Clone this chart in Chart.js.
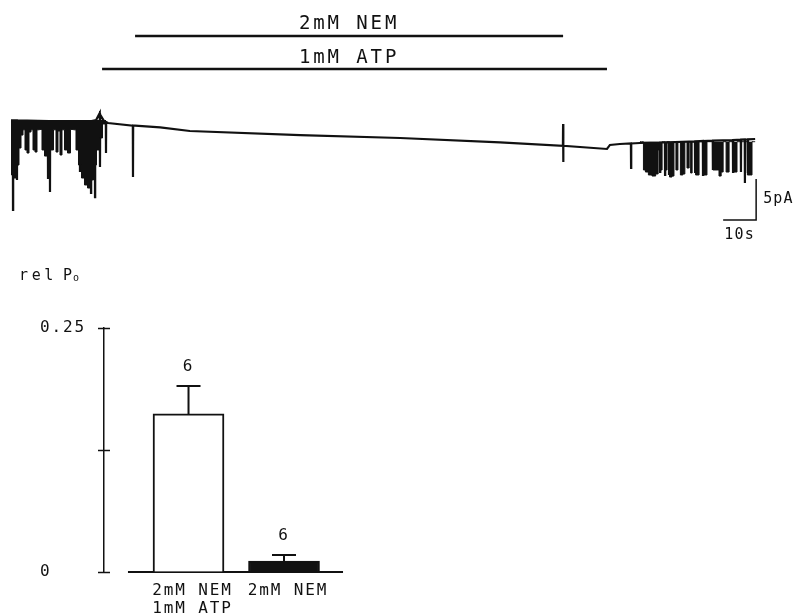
<!DOCTYPE html>
<html>
<head>
<meta charset="utf-8">
<script src="https://cdn.jsdelivr.net/npm/chart.js@4.4.0/dist/chart.umd.min.js"></script>
<style>
  html, body { margin: 0; padding: 0; background: #fff; width: 793px; height: 615px; overflow: hidden; }
  canvas { position: absolute; left: 0; }
  #trace { top: 0; }
  #bars { top: 250px; }
</style>
</head>
<body>
<canvas id="trace" width="793" height="250"></canvas>
<canvas id="bars" width="793" height="365"></canvas>
<script>
// ---- current trace (time in s, current in pA) ----
const traceT = [
  0.3, 0.86, 0.91, 0.96, 2.07, 2.12, 2.17,
  11.47, 11.52, 11.57, 12.07, 12.12, 12.17,
  21.16, 21.21, 21.26, 24.5, 24.55, 24.6, 25.71, 25.76, 25.81,
  26.1, 27.2, 27.27, 27.34, 28.5, 29.04, 29.09, 29.14, 29.7,
  37.22, 37.27, 37.32, 37.9, 45.5, 54.5, 87.9, 118.2, 148.5,
  167.55, 167.6, 167.65, 167.7, 180.9, 181.8, 184.8,
  188.15, 188.2, 188.25, 190.9, 196.95, 197.0, 197.05,
  198.45, 198.5, 198.55, 199.65, 199.7, 199.75,
  207.55, 207.6, 207.65, 209.1, 209.95, 210.0, 210.05,
  212.95, 213.0, 213.05, 219.05, 219.1, 219.15,
  221.45, 221.5, 221.55, 222.65, 222.7, 222.75, 223.55, 223.6, 223.65, 225.8
];
const traceI = [
  0.2, 0.2, -10.73, 0.2, 0.2, -7.07, 0.2,
  0.1, -6.83, 0.1, 0.1, -8.54, 0.1,
  0.1, -6.10, 0.1, 0.1, -8.66, 0.1, 0.2, -9.15, 0.2,
  0.24, 1.1, -5.49, 0.9, 0.12, 0.0, -3.78, 0.0, -0.12,
  -0.45, -6.71, -0.45, -0.45, -0.65, -1.1, -1.6, -1.95, -2.49,
  -2.9, -0.24, -4.88, -2.9, -3.29, -2.8, -2.68,
  -2.62, -5.61, -2.62, -2.56, -2.5, -6.10, -2.5,
  -2.48, -6.46, -2.48, -2.47, -6.34, -2.47,
  -2.36, -6.10, -2.36, -2.32, -2.31, -6.46, -2.31,
  -2.27, -5.85, -2.27, -2.2, -6.10, -2.2,
  -2.15, -6.10, -2.15, -2.13, -7.44, -2.13, -2.12, -6.22, -2.12, -2.07
];

// dense bursts of openings (lower envelope, filled up to the closed level)
const leftBandT = [0.30, 0.61, 1.52, 2.42, 3.03, 3.64, 4.24, 4.85, 5.45, 6.06, 6.67, 7.27, 7.88,
  8.48, 9.39, 10.0, 10.91, 11.82, 12.73, 13.64, 14.24, 14.85, 15.45, 16.06, 16.97, 17.88, 18.79,
  19.70, 20.30, 21.21, 22.12, 23.03, 23.94, 24.85, 25.76, 26.67, 27.58, 28.48, 29.09];
const leftBandI = [0, -6.46, -6.83, -5.24, -3.17, -1.59, -0.95, -3.41, -3.78, -1.22, -0.95, -3.41, -3.66,
  -0.95, -0.9, -3.41, -4.15, -4.39, -3.41, -0.95, -3.66, -1.1, -4.02, -0.95, -3.41, -3.78, -0.9,
  -0.95, -3.41, -5.24, -6.83, -7.68, -8.05, -7.07, -5.24, -3.41, -1.95, -0.24, 0];
const leftClosed = 0.25;

const rightBandT = [190.9, 191.8, 192.1, 193.0, 193.9, 195.2, 196.1, 196.7, 197.3, 197.9,
  198.8, 199.4, 200.3, 200.9, 201.5, 202.1, 202.7, 203.6, 204.2, 204.8,
  205.5, 206.1, 206.4, 207.0, 208.5, 209.1, 210.9, 211.5, 214.5, 215.2,
  215.8, 216.4, 217.6, 218.2, 220.0, 220.6, 222.4, 224.5, 225.2, 225.8];
const rightBandI = [-2.4, -2.4, -5.85, -6.10, -6.46, -6.59, -6.34, -3.41, -5.85, -2.4,
  -5.85, -2.4, -6.71, -6.59, -2.4, -5.85, -2.4, -6.46, -6.34, -2.4,
  -5.61, -2.4, -6.22, -2.4, -6.46, -2.4, -6.46, -2.4, -5.85, -6.59,
  -6.10, -2.4, -6.10, -2.4, -6.10, -2.4, -2.4, -6.46, -2.4, -2.4];
const rightClosed = -2.4;

// solution application bars
const nemT = [37.9, 167.6];
const nemLevel = 10.49;
const atpT = [27.9, 180.9];
const atpLevel = 6.46;

// scale bar: 10 s, 5 pA
const scaleBarT = [216.1, 226.1, 226.1];
const scaleBarI = [-11.95, -11.95, -6.95];

// ---- relative open probability ----
const barPos = [1, 2];
const barLabels = [['2mM NEM', '1mM ATP'], '2mM NEM'];
const barMean = [0.162, 0.0113];
const barSem = [0.0287, 0.0061];
const barN = [6, 6];
const baseLineX = [0.366, 2.618];
const yTickVals = [0, 0.125, 0.25];
const yTickLabels = ['0', '', '0.25'];

const FONT = "'DejaVu Sans Mono', monospace";
const INK = '#111';

const pts = (xs, ys) => xs.map((x, i) => ({ x, y: ys[i] }));

function text(ctx, str, x, y, size, sp, align, baseline) {
  ctx.save();
  ctx.font = size + 'px ' + FONT;
  ctx.letterSpacing = sp + 'px';
  ctx.fillStyle = INK;
  ctx.textAlign = align || 'left';
  ctx.textBaseline = baseline || 'alphabetic';
  ctx.fillText(str, x, y);
  ctx.restore();
}

const lineSet = (data, width, extra) => Object.assign({
  data, borderColor: INK, backgroundColor: INK, borderWidth: width,
  pointRadius: 0, fill: false, clip: false, tension: 0
}, extra || {});

const traceLabels = {
  id: 'traceLabels',
  afterDatasetsDraw(chart) {
    const { ctx, scales: { x, y } } = chart;
    const cx = x.getPixelForValue((nemT[0] + nemT[1]) / 2);
    text(ctx, '2mM NEM', cx, y.getPixelForValue(nemLevel) - 7, 19, 2.9, 'center');
    text(ctx, '1mM ATP', cx, y.getPixelForValue(atpLevel) - 6, 19, 2.9, 'center');
    const bx = x.getPixelForValue(scaleBarT[2]);
    const by = (y.getPixelForValue(scaleBarI[1]) + y.getPixelForValue(scaleBarI[2])) / 2;
    text(ctx, '5pA', bx + 7, by, 15, 1.2, 'left', 'middle');
    const hx = (x.getPixelForValue(scaleBarT[0]) + bx) / 2;
    text(ctx, '10s', hx, y.getPixelForValue(scaleBarI[0]) + 15, 15, 1.2, 'center', 'middle');
  }
};

new Chart(document.getElementById('trace'), {
  type: 'line',
  data: {
    datasets: [
      lineSet(pts(leftBandT, leftBandI), 1, { stepped: 'middle', fill: { value: leftClosed } }),
      lineSet(pts(rightBandT, rightBandI), 1, { stepped: 'middle', fill: { value: rightClosed } }),
      lineSet(pts(traceT, traceI), 2.2),
      lineSet(pts(nemT, [nemLevel, nemLevel]), 2.5),
      lineSet(pts(atpT, [atpLevel, atpLevel]), 2.5),
      lineSet(pts(scaleBarT, scaleBarI), 1.5)
    ]
  },
  options: {
    responsive: false,
    animation: false,
    layout: { padding: 0 },
    plugins: { legend: { display: false }, tooltip: { enabled: false } },
    scales: {
      x: { type: 'linear', min: -3.03, max: 237.27, display: false },
      y: { type: 'linear', min: -15.61, max: 14.88, display: false }
    }
  },
  plugins: [traceLabels]
});

const barExtras = {
  id: 'barExtras',
  beforeDraw(chart) { chart.ctx.letterSpacing = '1.9px'; },
  afterDraw(chart) {
    const { ctx, chartArea, scales: { x, y } } = chart;
    ctx.save();
    ctx.strokeStyle = INK;
    ctx.lineWidth = 1.5;
    yTickVals.forEach(v => {
      const py = Math.round(y.getPixelForValue(v)) + 0.5;
      ctx.beginPath();
      ctx.moveTo(chartArea.left - 6, py);
      ctx.lineTo(chartArea.left + 6, py);
      ctx.stroke();
    });
    ctx.lineWidth = 2;
    barPos.forEach((p, i) => {
      const px = x.getPixelForValue(p);
      const top = y.getPixelForValue(barMean[i]);
      const err = y.getPixelForValue(barMean[i] + barSem[i]);
      ctx.beginPath();
      ctx.moveTo(px, top);
      ctx.lineTo(px, err);
      ctx.moveTo(px - 12, err);
      ctx.lineTo(px + 12, err);
      ctx.stroke();
      text(ctx, String(barN[i]), px - 1, err - 19, 16, 0, 'center', 'middle');
    });
    ctx.restore();
    text(ctx, 'rel', 19, chartArea.top - 48, 15, 3.6);
    text(ctx, 'P', 63, chartArea.top - 48, 15, 0);
    text(ctx, 'o', 73, chartArea.top - 47, 10, 0);
  }
};

new Chart(document.getElementById('bars'), {
  type: 'bar',
  data: {
    datasets: [
      {
        type: 'bar',
        data: pts(barPos, barMean),
        backgroundColor: ['#fff', INK],
        borderColor: INK,
        borderWidth: 2,
        barThickness: 71,
        clip: false
      },
      lineSet(pts(baseLineX, [0, 0]), 2, { type: 'line' })
    ]
  },
  options: {
    responsive: false,
    animation: false,
    layout: { padding: { left: 40, top: 78, right: 394.4, bottom: 0 } },
    plugins: { legend: { display: false }, tooltip: { enabled: false } },
    scales: {
      x: {
        type: 'linear', min: 0.115, max: 3.2, offset: false,
        grid: { display: false }, border: { display: false },
        afterBuildTicks: s => { s.ticks = barPos.map(v => ({ value: v })); },
        afterFit: s => { s.height = 43; },
        ticks: {
          callback: (v, i) => barLabels[i],
          font: { family: FONT, size: 16, lineHeight: 1.1 },
          color: INK, padding: 2, labelOffset: 4,
          maxRotation: 0, minRotation: 0, autoSkip: false
        }
      },
      y: {
        type: 'linear', min: 0, max: 0.25,
        afterBuildTicks: s => { s.ticks = yTickVals.map(v => ({ value: v })); },
        afterFit: s => { s.width = 64; },
        grid: { display: true, drawOnChartArea: false, drawTicks: false },
        border: { display: true, color: INK, width: 1.5 },
        ticks: {
          callback: (v, i) => yTickLabels[i],
          crossAlign: 'far', padding: 0,
          font: { family: FONT, size: 16 }, color: INK
        }
      }
    }
  },
  plugins: [barExtras]
});
</script>
</body>
</html>
